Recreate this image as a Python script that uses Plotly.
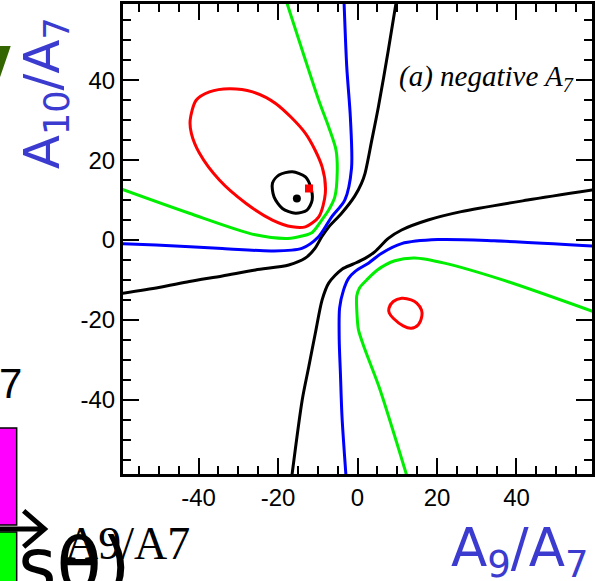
import plotly.graph_objects as go

# ---- contour levels in the (A9/A7, A10/A7) plane ----
# black, outer branch (upper-left arm)
blk_a_x = [-59.5, -50.0, -42.3, -34.0, -25.7, -17.3, -13.2, -10.7, -9.0, -7.3, -4.0, -0.7, 1.0, 1.9, 3.6, 5.25, 7.75, 9.8]
blk_a_y = [-13.4, -11.9, -10.4, -9.0, -7.5, -6.25, -4.6, -2.1, 0.8, 3.2, 6.7, 11.0, 14.2, 16.7, 25.0, 33.3, 47.5, 60.0]
# black, outer branch (lower-right arm)
blk_b_x = [59.5, 42.75, 26.1, 17.75, 11.1, 7.75, 4.4, 1.9, -1.0, -3.9, -7.25, -8.9, -10.6, -12.25, -13.9, -16.5]
blk_b_y = [12.6, 10.0, 7.1, 5.0, 2.5, 0.4, -2.9, -4.6, -6.0, -7.3, -10.8, -15.0, -23.3, -31.7, -40.0, -59.0]
# blue
blu_a_x = [-59.5, -50.7, -34.0, -21.5, -14.0, -9.8, -6.5, -3.2, -1.5, -1.8, -2.7, -3.4]
blu_a_y = [-0.9, -1.25, -2.1, -2.75, -2.1, 0.8, 5.8, 10.0, 18.0, 30.8, 43.3, 60.0]
blu_b_x = [59.5, 34.4, 20.25, 11.1, 6.1, 2.75, -0.5, -2.25, -3.5, -4.5, -4.6, -4.3, -3.9, -2.9]
blu_b_y = [-1.5, -0.2, 0.1, -0.9, -3.3, -5.8, -7.8, -9.6, -12.5, -17.0, -25.0, -33.3, -44.2, -59.0]
# green
grn_a_x = [-59.5, -42.3, -25.7, -17.5, -14.0, -11.4, -9.0, -7.25, -5.7, -5.1, -5.4, -7.25, -9.75, -17.8]
grn_a_y = [12.8, 6.7, 1.3, 0.4, 1.0, 1.9, 5.0, 7.5, 10.8, 17.0, 22.5, 28.3, 35.0, 59.5]
grn_b_x = [59.5, 36.5, 21.9, 14.4, 9.4, 5.0, 2.3, 0.5, -0.2, -0.1, 0.25, 1.9, 5.5, 12.4]
grn_b_y = [-18.0, -10.0, -5.8, -4.5, -5.2, -7.5, -10.0, -12.0, -14.0, -19.0, -22.5, -27.5, -37.0, -59.0]
# red, closed islands
red_a_x = [-42.1, -40.6, -37.25, -32.25, -26.4, -20.6, -13.1, -8.9, -8.1, -9.75, -13.1, -16.4, -21.4, -28.1, -34.75, -39.75, -41.8, -42.1]
red_a_y = [30.0, 35.0, 37.1, 37.9, 37.1, 34.2, 26.7, 18.3, 11.7, 5.8, 3.3, 3.3, 5.0, 9.2, 15.0, 21.7, 26.7, 30.0]
red_b_x = [7.9, 9.0, 11.1, 13.5, 14.9, 16.1, 16.2, 15.3, 13.5, 11.5, 9.0, 8.0, 7.9]
red_b_y = [-17.1, -15.4, -14.6, -15.0, -15.8, -17.5, -19.0, -21.2, -22.1, -21.5, -19.6, -18.3, -17.1]
# black, inner island around the best fit
blk_c_x = [-21.4, -19.75, -16.4, -13.1, -11.8, -11.4, -12.7, -15.6, -18.9, -21.0, -21.4]
blk_c_y = [14.2, 16.25, 17.1, 15.8, 13.3, 10.0, 7.5, 6.7, 7.9, 10.8, 14.2]

# best-fit point and reference point
best_x, best_y = [-15.25], [10.4]
ref_x, ref_y = [-12.2], [12.9]

x_ticks = [-40, -20, 0, 20, 40]
y_ticks = [-40, -20, 0, 20, 40]
x_tick_text = ["-40", "-20", "0", "20", "40"]
y_tick_text = ["-40", "-20", "0", "20", "40"]

W, H = 596, 581
L, R, T, B = 123, 1, 3, 107
PW, PH = W - L - R, H - T - B


def px(x):
    return (x - L) / PW


def py(y):
    return (H - B - y) / PH


fig = go.Figure()

curves = [
    (blk_a_x, blk_a_y, "black"), (blk_b_x, blk_b_y, "black"),
    (blu_a_x, blu_a_y, "#0000ff"), (blu_b_x, blu_b_y, "#0000ff"),
    (grn_a_x, grn_a_y, "#00ee00"), (grn_b_x, grn_b_y, "#00ee00"),
    (red_a_x, red_a_y, "#ff0000"), (red_b_x, red_b_y, "#ff0000"),
    (blk_c_x, blk_c_y, "black"),
]
for cx, cy, col in curves:
    fig.add_trace(go.Scatter(x=cx, y=cy, mode="lines",
                             line=dict(color=col, width=3, shape="spline", smoothing=0.8),
                             showlegend=False, hoverinfo="skip"))

fig.add_trace(go.Scatter(x=best_x, y=best_y, mode="markers",
                         marker=dict(symbol="circle", size=8, color="black"),
                         showlegend=False))
fig.add_trace(go.Scatter(x=ref_x, y=ref_y, mode="markers",
                         marker=dict(symbol="square", size=8, color="#ff0000"),
                         showlegend=False))

axis_common = dict(
    showgrid=False, zeroline=False,
    showline=True, linecolor="black", linewidth=3, mirror="allticks",
    ticks="inside", ticklen=16, tickwidth=2, tickcolor="black",
    minor=dict(ticks="inside", ticklen=8, tickwidth=2, tickcolor="black", dtick=5),
    tickfont=dict(family="Liberation Sans", size=24, color="black"),
)
fig.update_xaxes(range=[-59.0, 59.0], tickmode="array", tickvals=x_ticks, ticktext=x_tick_text, **axis_common)
fig.update_yaxes(range=[-58.6, 59.1], tickmode="array", tickvals=y_ticks, ticktext=y_tick_text, **axis_common)

blue = "#3b3bd0"
ann = [
    dict(text="<i>(a) negative A<sub>7</sub></i>", x=px(399), y=py(77), xanchor="left", yanchor="middle",
         font=dict(family="Liberation Serif", size=29, color="black")),
    dict(text="A<sub>10</sub>/A<sub>7</sub>", x=px(45), y=py(92), textangle=-90, xanchor="center", yanchor="middle",
         font=dict(family="DejaVu Sans", size=50, color=blue)),
    dict(text="A<sub>9</sub>/A<sub>7</sub>", x=px(594), y=py(552), xanchor="right", yanchor="middle",
         font=dict(family="DejaVu Sans", size=53, color=blue)),
    dict(text="7", x=px(23), y=py(383), xanchor="right", yanchor="middle",
         font=dict(family="Liberation Sans", size=42, color="black")),
    dict(text="A9/A7", x=px(63), y=py(544), xanchor="left", yanchor="middle",
         font=dict(family="Liberation Serif", size=46, color="black")),
    dict(text="sθ)", x=px(15), y=py(565), xanchor="left", yanchor="middle",
         font=dict(family="DejaVu Sans", size=74, color="black")),
]
for a in ann:
    a.update(xref="paper", yref="paper", showarrow=False)
fig.update_layout(annotations=ann)

shapes = [
    dict(type="path", path=f"M {px(-2)},{py(45)} L {px(10)},{py(45)} L {px(-2)},{py(80)} Z",
         fillcolor="#336600", line=dict(width=0)),
    dict(type="rect", x0=px(-3), x1=px(16), y0=py(428), y1=py(525),
         fillcolor="#ff00ff", line=dict(color="black", width=1.5)),
    dict(type="rect", x0=px(-3), x1=px(16), y0=py(532), y1=py(590),
         fillcolor="#00ff00", line=dict(color="black", width=1.5)),
    dict(type="path", path=f"M {px(-2)},{py(529)} L {px(42)},{py(529)} M {px(23)},{py(511)} L {px(44)},{py(529)} L {px(23)},{py(547)}",
         line=dict(color="black", width=5)),
]
for s in shapes:
    s.update(xref="paper", yref="paper", layer="above")
fig.update_layout(shapes=shapes)

fig.update_layout(
    width=W, height=H,
    margin=dict(l=L, r=R, t=T, b=B),
    paper_bgcolor="white", plot_bgcolor="white",
)

fig.write_html("out.html")
